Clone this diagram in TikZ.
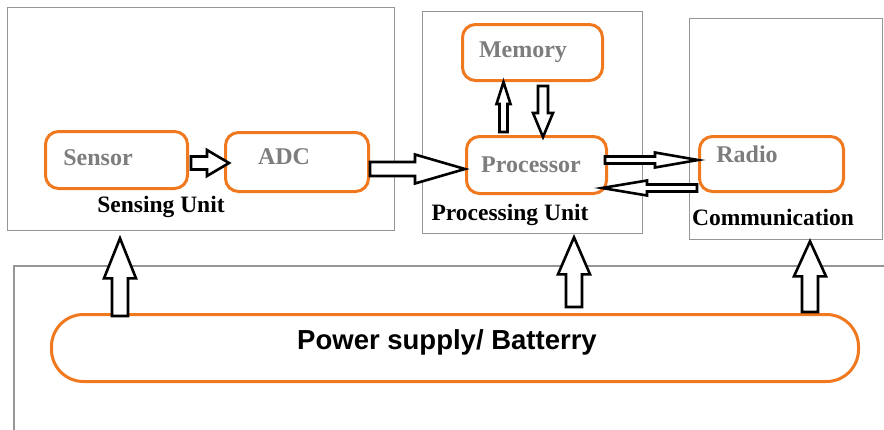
\documentclass[tikz,border=0pt]{standalone}
\usepackage{fontspec}
\setmainfont{Liberation Serif}
\newfontfamily\powerfont{Liberation Sans}
\usetikzlibrary{calc}
\definecolor{boxorange}{RGB}{240,120,30}
\definecolor{boxgray}{RGB}{150,150,150}
\definecolor{txtgray}{RGB}{125,125,125}
\tikzset{
  unitbox/.style={draw=boxgray, line width=1.3pt, anchor=north west, inner sep=0pt},
  partbox/.style={draw=boxorange, line width=3pt, rounded corners=13pt, inner sep=0pt},
  parttext/.style={text=txtgray, font=\bfseries\fontsize{24}{28}\selectfont},
  unitlabel/.style={text=black, font=\bfseries\fontsize{23.5}{28}\selectfont},
  blockarr/.style={draw=black, fill=white, line width=2.6pt, line join=miter},
}
\newcommand\blockarrow[5]{%
  \coordinate (ba-h) at ($(#2)!#5!(#1)$);
  \draw[blockarr] ($(#1)!#3!90:(#2)$) -- ($(ba-h)!#3!-90:(#1)$) -- ($(ba-h)!#4!-90:(#1)$)
    -- (#2) -- ($(ba-h)!#4!90:(#1)$) -- ($(ba-h)!#3!90:(#1)$) -- ($(#1)!#3!-90:(#2)$) -- cycle;}
\begin{document}
\begin{tikzpicture}[x=1pt,y=-1pt]
\useasboundingbox[fill=white] (0,0) rectangle (884,429);
% unit boxes
\node[unitbox, minimum width=387pt, minimum height=223pt] (sensingbox) at (7,7) {};
\node[unitbox, minimum width=220pt, minimum height=222pt] (procbox) at (422,11) {};
\node[unitbox, minimum width=193pt, minimum height=221pt] (commbox) at (689,18) {};
\draw[boxgray, line width=1.3pt] (886,266) -- (14,266) -- (14,431);
% part boxes
\node[partbox, minimum width=142pt, minimum height=57pt] (sensor) at (116.5,160) {};
\node[partbox, minimum width=143pt, minimum height=59pt] (adc) at (297,162) {};
\node[partbox, minimum width=140pt, minimum height=56pt] (memory) at (532.5,52.5) {};
\node[partbox, minimum width=140pt, minimum height=57pt] (proc) at (536.5,165) {};
\node[partbox, minimum width=144pt, minimum height=55pt] (radio) at (771.5,164) {};
\node[partbox, rounded corners=32pt, minimum width=807pt, minimum height=67pt] (power) at (455,348) {};
% texts
\node[parttext] (sensortxt) at (98,158) {Sensor};
\node[parttext] (adctxt) at (284,157) {ADC};
\node[parttext] (memtxt) at (523,52) {Memory};
\node[parttext] (proctxt) at (531,165) {Processor};
\node[parttext] (radiotxt) at (747,154) {Radio};
\node[unitlabel] (sensinglbl) at (161,207) {Sensing Unit};
\node[unitlabel] (proclbl) at (510,215) {Processing Unit};
\node[unitlabel] (commlbl) at (773,217) {Communication};
\node[font=\powerfont\bfseries\fontsize{27.5}{32}\selectfont] (powertxt) at (447,342) {Power supply/ Batterry};
% block arrows between parts
\coordinate (a1s) at ([xshift=2pt,yshift=-3pt]sensor.east);
\coordinate (a1e) at ([xshift=5pt,yshift=-1pt]adc.west);
\blockarrow{a1s}{a1e}{6.5pt}{13pt}{22pt}
\coordinate (a2s) at ([yshift=-7pt]adc.east);
\coordinate (a2e) at ([yshift=-4pt]proc.west);
\blockarrow{a2s}{a2e}{7pt}{14.5pt}{50pt}
\coordinate (a3s) at ([xshift=-33pt,yshift=3pt]proc.north);
\coordinate (a3e) at (memory.south -| a3s);
\blockarrow{a3s}{a3e}{4pt}{7pt}{22pt}
\coordinate (a4s) at ([xshift=10.5pt,yshift=-4pt]memory.south);
\coordinate (a4e) at ([xshift=6.5pt,yshift=-2pt]proc.north);
\blockarrow{a4s}{a4e}{5pt}{10pt}{24pt}
\coordinate (a5s) at ([xshift=-3pt,yshift=5pt]proc.east);
\coordinate (a5e) at ([yshift=4pt]radio.west);
\blockarrow{a5s}{a5e}{3.5pt}{7.5pt}{43pt}
\coordinate (a6s) at ([xshift=-1pt,yshift=-24pt]radio.west);
\coordinate (a6e) at ([xshift=-6pt,yshift=-23pt]proc.east);
\blockarrow{a6s}{a6e}{3.5pt}{7.5pt}{45pt}
% power arrows
\coordinate (p1e) at ([xshift=113pt,yshift=-7pt]sensingbox.south west);
\path (power.north -| p1e) ++(0,3) coordinate (p1s);
\blockarrow{p1s}{p1e}{8pt}{16pt}{40pt}
\coordinate (p2e) at ([xshift=152pt,yshift=-3pt]procbox.south west);
\path (power.north -| p2e) ++(0,-6) coordinate (p2s);
\blockarrow{p2s}{p2e}{8pt}{16pt}{37pt}
\coordinate (p3e) at ([xshift=121pt,yshift=-1pt]commbox.south west);
\path (power.north -| p3e) ++(0,-1) coordinate (p3s);
\blockarrow{p3s}{p3e}{8pt}{16pt}{35pt}
\end{tikzpicture}
\end{document}
